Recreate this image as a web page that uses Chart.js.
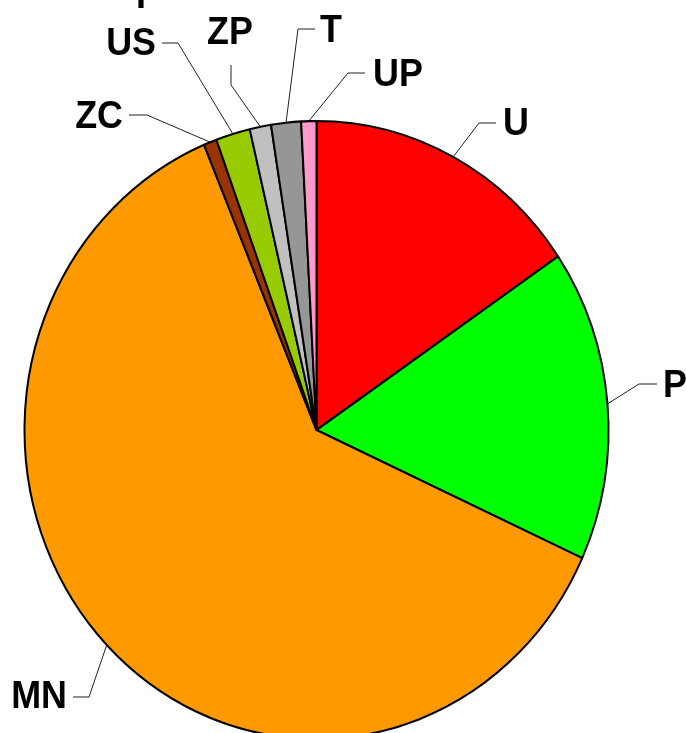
<!DOCTYPE html>
<html>
<head>
<meta charset="utf-8">
<script src="https://cdn.jsdelivr.net/npm/chart.js@4"></script>
<style>
  html, body { margin: 0; padding: 0; background: #fff; }
  #wrap { width: 686px; height: 733px; }
</style>
</head>
<body>
<div id="wrap"><canvas id="myChart" width="686" height="733"></canvas></div>
<script>
// slices clockwise from 12 o'clock, values in percent
const categories = ['U', 'P', 'MN', 'ZC', 'US', 'ZP', 'T', 'UP'];
const shares = [15.5, 16.3, 61.9, 0.72, 1.9, 1.18, 1.65, 0.84];
const sliceColors = ['#FF0000', '#00FF00', '#FF9900', '#993300', '#99CC00', '#C0C0C0', '#969696', '#FF99CC'];

// label placement: [bendX, bendY, endX, endY, textX, baseline, align]
const labelPlaces = [
  [479, 123, 496, 123, 503, 135, 'left'],
  [639, 384, 657, 384, 663, 397, 'left'],
  [89, 697, 73, 697, 67, 708, 'right'],
  [147, 115, 129, 115, 123, 128, 'right'],
  [178, 43, 162, 43, 156, 55, 'right'],
  [231, 85, 231, 65, 230, 44, 'center'],
  [298, 29, 315, 29, 320, 42, 'left'],
  [348, 73, 365, 73, 373, 86, 'left']
];

const squash = 309 / 292; // pie is drawn slightly taller than wide

const ellipse = {
  id: 'ellipse',
  beforeDatasetsDraw(chart) {
    const arc = chart.getDatasetMeta(0).data[0];
    const c = chart.ctx;
    c.save();
    c.translate(arc.x, arc.y);
    c.scale(1, squash);
    c.translate(-arc.x, -arc.y);
  },
  afterDatasetsDraw(chart) {
    chart.ctx.restore();
  }
};

function label(c, txt, x, y, align) {
  c.save();
  c.translate(x, y);
  c.scale(0.92, 1); // letters a bit narrower than plain Arial bold
  c.textAlign = align;
  c.textBaseline = 'alphabetic';
  c.fillText(txt, 0, 0);
  c.restore();
}

const leaders = {
  id: 'leaders',
  afterDraw(chart) {
    const c = chart.ctx;
    const arcs = chart.getDatasetMeta(0).data;
    c.save();
    c.font = 'bold 39px "Liberation Sans", Arial, sans-serif';
    c.fillStyle = '#000';
    c.strokeStyle = '#222';
    c.lineWidth = 1;
    arcs.forEach((a, i) => {
      const p = labelPlaces[i];
      const mid = (a.startAngle + a.endAngle) / 2;
      const sx = a.x + a.outerRadius * Math.cos(mid);
      const sy = a.y + a.outerRadius * squash * Math.sin(mid);
      c.beginPath();
      c.moveTo(sx, sy);
      c.lineTo(p[0], p[1]);
      c.lineTo(p[2], p[3]);
      c.stroke();
      label(c, categories[i], p[4], p[5], p[6]);
    });
    // label cut off by the top edge
    label(c, 'I', 141, 8, 'center');
    c.restore();
  }
};

new Chart(document.getElementById('myChart'), {
  type: 'pie',
  data: {
    labels: categories,
    datasets: [{
      data: shares,
      backgroundColor: sliceColors,
      borderColor: '#000',
      borderWidth: 2,
      radius: 292
    }]
  },
  options: {
    responsive: false,
    animation: false,
    layout: { padding: { left: 24.5, right: 77.5, top: 138, bottom: 11 } },
    plugins: {
      legend: { display: false },
      tooltip: { enabled: false }
    }
  },
  plugins: [ellipse, leaders]
});
</script>
</body>
</html>
